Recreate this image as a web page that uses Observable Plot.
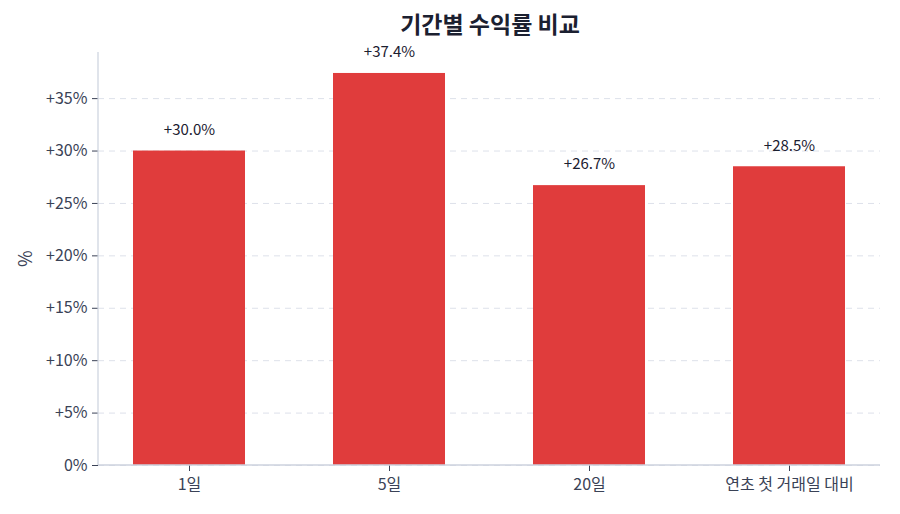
<!DOCTYPE html>
<html><head><meta charset="utf-8">
<script src="https://cdn.jsdelivr.net/npm/d3@7"></script>
<script src="https://cdn.jsdelivr.net/npm/@observablehq/plot@0.6"></script>
<style>
body{margin:0;background:#fff;font-family:"Noto Sans CJK KR","Noto Sans",sans-serif;}
#title{position:relative;height:30px;width:900px;}
#title span{position:absolute;left:490px;top:8px;transform:translateX(-50%);font-size:23px;line-height:30px;font-weight:700;color:#1b2030;white-space:nowrap;}
</style></head>
<body>
<div id="title"><span>기간별 수익률 비교</span></div>
<div id="chart"></div>
<script>
const categories = ["1일", "5일", "20일", "연초 첫 거래일 대비"];
const returns = [30.0, 37.4, 26.7, 28.5];
const yTicks = [0, 5, 10, 15, 20, 25, 30, 35];

const data = categories.map((c, i) => ({cat: c, v: returns[i]}));
const fmtTick = d => d === 0 ? "0%" : "+" + d + "%";
const fmtVal = d => "+" + d.toFixed(1) + "%";

const plot = Plot.plot({
  width: 900,
  height: 484,
  marginTop: 22,
  marginBottom: 49,
  marginLeft: 98,
  marginRight: 20,
  style: {fontFamily: '"Noto Sans CJK KR","Noto Sans",sans-serif', fontSize: "16px", color: "#3a4256", background: "#fff", overflow: "visible"},
  x: {domain: categories, paddingInner: 0.44, paddingOuter: 0.175, label: null},
  y: {domain: [0, 39.4], label: null},
  marks: [
    Plot.gridY(yTicks, {stroke: "#dde1ea", strokeOpacity: 1, strokeDasharray: "6,5"}),
    Plot.barY(data, {x: "cat", y: "v", fill: "#e03c3c"}),
    Plot.text(data, {x: "cat", y: "v", text: d => fmtVal(d.v), dy: -21, fontSize: 15, fill: "#1b2030"}),
    Plot.axisY({ticks: yTicks, tickFormat: fmtTick, tickSize: 6, tickPadding: 5, stroke: "#3a4256", fontSize: 16, label: null}),
    Plot.axisX({tickSize: 6, tickPadding: 7, stroke: "#3a4256", fontSize: 16, label: null}),
    Plot.text(["%"], {frameAnchor: "left", dx: -72, dy: 8, rotate: -90, fontSize: 18, fill: "#3a4256"})
  ]
});
document.getElementById("chart").appendChild(plot);
const svg = d3.select(plot);
svg.append("line").attr("x1", 98).attr("x2", 98).attr("y1", 22).attr("y2", 435).attr("stroke", "#ccd2de").attr("stroke-width", 1.2);
svg.append("line").attr("x1", 98).attr("x2", 880).attr("y1", 435).attr("y2", 435).attr("stroke", "#ccd2de").attr("stroke-width", 1.5);
</script>
</body></html>
